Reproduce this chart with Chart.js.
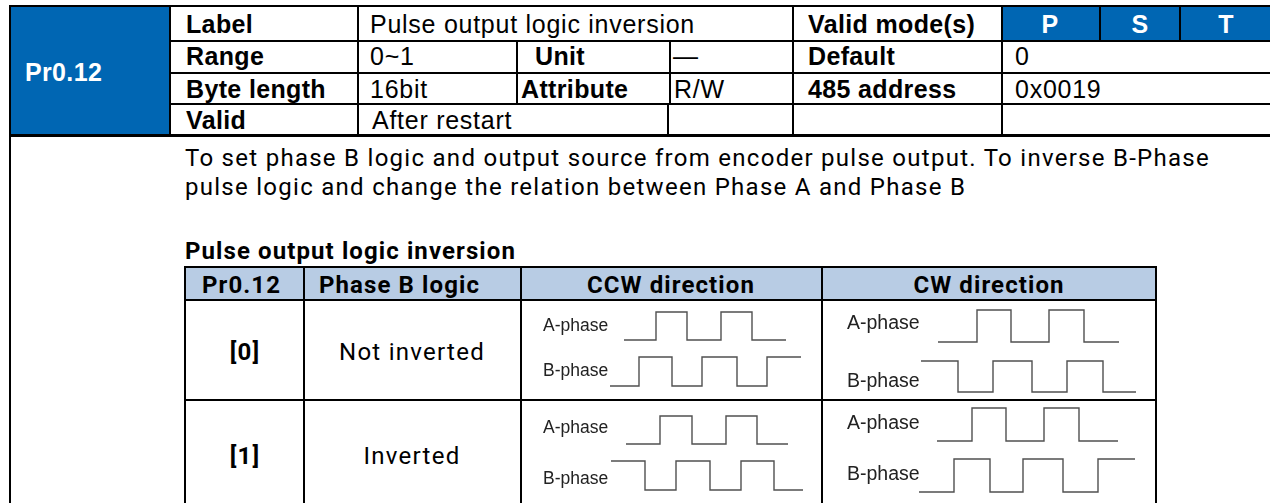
<!DOCTYPE html>
<html><head><meta charset="utf-8">
<script src="https://cdn.jsdelivr.net/npm/chart.js@4"></script>
<style>
html,body{margin:0;padding:0;background:#fff;}
#root{position:relative;width:1270px;height:503px;overflow:hidden;background:#fff;}
.r{position:absolute;}
.t{position:absolute;white-space:nowrap;line-height:1.2;transform:translateY(-50%);}
canvas{position:absolute;}
</style></head><body><div id="root"></div>
<script>
// ---------- data ----------
const paramId = 'Pr0.12';
const rowLabels = ['Label', 'Range', 'Byte length', 'Valid'];
const rowValues = ['Pulse output logic inversion', '0~1', '16bit', 'After restart'];
const midLabels = ['Unit', 'Attribute'];
const midValues = ['\u2014', 'R/W'];
const rightLabels = ['Valid mode(s)', 'Default', '485 address'];
const rightValues = ['0', '0x0019'];
const modes = ['P', 'S', 'T'];
const description = [
  'To set phase B logic and output source from encoder pulse output. To inverse B-Phase',
  'pulse logic and change the relation between Phase A and Phase B'
];
const subTitle = 'Pulse output logic inversion';
const headers = ['Pr0.12', 'Phase B logic', 'CCW direction', 'CW direction'];
const settingValues = ['[0]', '[1]'];
const phaseLogic = ['Not inverted', 'Inverted'];
const phaseNames = ['A-phase', 'B-phase'];

// waveform edges: time (relative to cell origin) and level after that time
const ccw0A_t = [14, 46, 77, 111, 142, 176];      const ccw0A_v = [0, 1, 0, 1, 0, 0];
const ccw0B_t = [0, 29, 62, 92, 127, 157, 191];   const ccw0B_v = [0, 1, 0, 1, 0, 1, 1];
const cw0A_t  = [17, 56, 90, 128, 163, 198];      const cw0A_v  = [0, 1, 0, 1, 0, 0];
const cw0B_t  = [0, 37, 72, 111, 146, 182, 215];  const cw0B_v  = [1, 0, 1, 0, 1, 0, 0];
const ccw1A_t = [15, 49, 81, 115, 146, 177];      const ccw1A_v = [0, 1, 0, 1, 0, 0];
const ccw1B_t = [0, 34, 65, 99, 130, 163, 192];   const ccw1B_v = [1, 0, 1, 0, 1, 0, 0];
const cw1A_t  = [18, 53, 87, 125, 160, 199];      const cw1A_v  = [0, 1, 0, 1, 0, 0];
const cw1B_t  = [0, 35, 71, 104, 144, 179, 216];  const cw1B_v  = [0, 1, 0, 1, 0, 1, 1];

// ---------- helpers ----------
const root = document.getElementById('root');
const BLUE = '#0066b3', LBLUE = '#b8cce4';
function rect(x, y, w, h, bg) {
  const d = document.createElement('div'); d.className = 'r';
  Object.assign(d.style, {left: x + 'px', top: y + 'px', width: w + 'px', height: h + 'px', background: bg});
  root.appendChild(d); return d;
}
function hl(x1, x2, y, t) { return rect(x1, y, x2 - x1, t || 2, '#000'); }
function vl(x, y1, y2, t) { return rect(x, y1, t || 2, y2 - y1, '#000'); }
function txt(s, x, y, o) {
  const d = document.createElement('div'); d.className = 't'; d.textContent = s;
  Object.assign(d.style, {left: x + 'px', top: y + 'px', fontFamily: o.f, fontSize: o.s + 'px',
    fontWeight: o.w || 400, color: o.c || '#000', letterSpacing: (o.ls || 0) + 'px'});
  root.appendChild(d);
  if (o.center) { const w = d.getBoundingClientRect().width; d.style.left = (x - w / 2) + 'px'; }
  return d;
}
function spacingFor(s, f, size, w, target) {
  const d = txt(s, 0, -100, {f: f, s: size, w: w});
  const cur = d.getBoundingClientRect().width; root.removeChild(d);
  return (target - cur) / s.length;
}
const ARIAL = '"Liberation Sans", Arial, sans-serif';
const DIN = 'Roboto, "Noto Sans", sans-serif';

// ---------- top table ----------
rect(11, 7, 158, 127, BLUE);
rect(1002, 7, 268, 34, BLUE);
hl(9, 1270, 5); hl(169, 1270, 40); hl(169, 1270, 72); hl(169, 1270, 103); hl(9, 1270, 134, 2.5);
vl(9, 5, 503);
vl(169, 5, 136); vl(357, 5, 136); vl(792, 5, 136); vl(1001, 5, 136);
vl(516, 40, 105); vl(669, 40, 105); vl(667, 103, 136);
vl(1099, 5, 42); vl(1179, 5, 42);

const lsReg = spacingFor(rowValues[0], ARIAL, 25, 400, 325);
const lsBold = spacingFor(rowLabels[2], ARIAL, 25, 700, 140);
const rowY = [24, 56, 89, 120];
const TB = {f: ARIAL, s: 25, w: 700, ls: lsBold};
const TR = {f: ARIAL, s: 25, w: 400, ls: lsReg};
rowLabels.forEach((s, i) => txt(s, 186, rowY[i], TB));
rowValues.forEach((s, i) => txt(s, i === 3 ? 372 : 370, rowY[i], TR));
txt(midLabels[0], 535, rowY[1], TB);
txt(midLabels[1], 521, rowY[2], TB);
txt(midValues[0], 673, rowY[1], TR);
txt(midValues[1], 674, rowY[2], TR);
rightLabels.forEach((s, i) => txt(s, 808, rowY[i], TB));
rightValues.forEach((s, i) => txt(s, 1015, rowY[i + 1], TR));
const modeX = [1050, 1140, 1226];
modes.forEach((s, i) => txt(s, modeX[i], rowY[0], Object.assign({}, TB, {c: '#fff', center: true})));
txt(paramId, 25, 72, Object.assign({}, TB, {c: '#fff'}));

// ---------- description ----------
const lsDin = spacingFor(description[0], DIN, 24, 400, 1025);
txt(description[0], 185, 158, {f: DIN, s: 24, w: 400, ls: lsDin});
txt(description[1], 185, 187, {f: DIN, s: 24, w: 400, ls: lsDin});
const lsDinB = spacingFor(subTitle, DIN, 24, 700, 331);
txt(subTitle, 185, 251, {f: DIN, s: 24, w: 700, ls: lsDinB});

// ---------- inner table ----------
rect(185, 268, 971, 31, LBLUE);
hl(184, 1157, 266); hl(184, 1157, 299); hl(184, 1157, 399);
[184, 303, 520, 821, 1155].forEach(x => vl(x, 266, 503));
const HB = {f: DIN, s: 24, w: 700, ls: lsDinB};
txt(headers[0], 202, 285, HB);
txt(headers[1], 319, 285, HB);
txt(headers[2], 671, 285, Object.assign({}, HB, {center: true}));
txt(headers[3], 989, 285, Object.assign({}, HB, {center: true}));
const rowCY = [352, 456];
settingValues.forEach((s, i) => txt(s, 245, rowCY[i], Object.assign({}, HB, {center: true})));
phaseLogic.forEach((s, i) => txt(s, 412, rowCY[i], {f: DIN, s: 24, w: 400, ls: lsDin, center: true}));

// ---------- waveforms ----------
function wave(x0, yHigh, yLow, times, levels, range) {
  const pad = 3;
  const c = document.createElement('canvas');
  c.width = range + 2 * pad; c.height = (yLow - yHigh) + 2 * pad;
  c.style.left = (x0 - pad) + 'px'; c.style.top = (yHigh - pad) + 'px';
  c.style.width = c.width + 'px'; c.style.height = c.height + 'px';
  root.appendChild(c);
  new Chart(c, {
    type: 'line',
    data: {datasets: [{data: times.map((t, i) => ({x: t, y: levels[i]})), stepped: true,
      borderColor: '#505050', borderWidth: 1.4, pointRadius: 0, fill: false, clip: false}]},
    options: {responsive: false, animation: false, events: [], layout: {padding: pad},
      plugins: {legend: {display: false}, tooltip: {enabled: false}},
      scales: {x: {type: 'linear', display: false, min: 0, max: range},
               y: {display: false, min: 0, max: 1}}}
  });
}
const cells = [
  {x0: 610, lx: 543, s: 17.5, A: [312, 340, ccw0A_t, ccw0A_v], B: [357, 386, ccw0B_t, ccw0B_v], ay: 325, by: 370},
  {x0: 921, lx: 847, s: 19.5, A: [310, 342, cw0A_t, cw0A_v],  B: [361, 392, cw0B_t, cw0B_v],  ay: 323, by: 381},
  {x0: 611, lx: 543, s: 17.5, A: [416, 444, ccw1A_t, ccw1A_v], B: [461, 490, ccw1B_t, ccw1B_v], ay: 427, by: 478},
  {x0: 919, lx: 847, s: 19.5, A: [408, 441, cw1A_t, cw1A_v],  B: [459, 492, cw1B_t, cw1B_v],  ay: 423, by: 474}
];
cells.forEach(c => {
  const range = Math.max(c.A[2][c.A[2].length - 1], c.B[2][c.B[2].length - 1]);
  wave(c.x0, c.A[0], c.A[1], c.A[2], c.A[3], range);
  wave(c.x0, c.B[0], c.B[1], c.B[2], c.B[3], range);
  txt(phaseNames[0], c.lx, c.ay, {f: ARIAL, s: c.s, c: '#222'});
  txt(phaseNames[1], c.lx, c.by, {f: ARIAL, s: c.s, c: '#222'});
});
</script></body></html>
